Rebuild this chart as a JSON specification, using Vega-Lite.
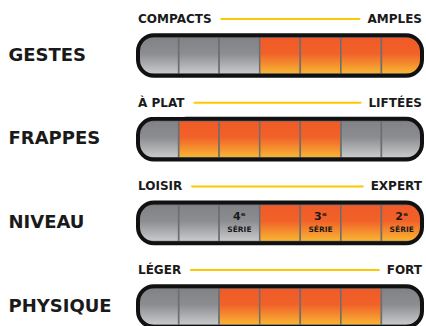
{
  "$schema": "https://vega.github.io/schema/vega-lite/v6.json",
  "width": 284,
  "height": 326,
  "autosize": {"type": "none"},
  "padding": {"left": 138, "top": 0, "right": 4, "bottom": 0},
  "background": "white",
  "config": {
    "view": {"stroke": null},
    "axisY": {"title": null, "domain": false, "ticks": false, "grid": false, "labelPadding": 130, "labelAlign": "left", "labelBaseline": "middle", "labelFont": "DejaVu Sans", "labelFontWeight": "bold", "labelFontSize": 18, "labelColor": "#1a1a1a"}
  },
  "datasets": {
    "cells": [
      {"row": "GESTES", "cell": 1, "on": false},
      {"row": "GESTES", "cell": 2, "on": false},
      {"row": "GESTES", "cell": 3, "on": false},
      {"row": "GESTES", "cell": 4, "on": true},
      {"row": "GESTES", "cell": 5, "on": true},
      {"row": "GESTES", "cell": 6, "on": true},
      {"row": "GESTES", "cell": 7, "on": true},
      {"row": "FRAPPES", "cell": 1, "on": false},
      {"row": "FRAPPES", "cell": 2, "on": true},
      {"row": "FRAPPES", "cell": 3, "on": true},
      {"row": "FRAPPES", "cell": 4, "on": true},
      {"row": "FRAPPES", "cell": 5, "on": true},
      {"row": "FRAPPES", "cell": 6, "on": false},
      {"row": "FRAPPES", "cell": 7, "on": false},
      {"row": "NIVEAU", "cell": 1, "on": false},
      {"row": "NIVEAU", "cell": 2, "on": false},
      {"row": "NIVEAU", "cell": 3, "on": false, "num": "4ᵉ"},
      {"row": "NIVEAU", "cell": 4, "on": true},
      {"row": "NIVEAU", "cell": 5, "on": true, "num": "3ᵉ"},
      {"row": "NIVEAU", "cell": 6, "on": true},
      {"row": "NIVEAU", "cell": 7, "on": true, "num": "2ᵉ"},
      {"row": "PHYSIQUE", "cell": 1, "on": false},
      {"row": "PHYSIQUE", "cell": 2, "on": false},
      {"row": "PHYSIQUE", "cell": 3, "on": true},
      {"row": "PHYSIQUE", "cell": 4, "on": true},
      {"row": "PHYSIQUE", "cell": 5, "on": true},
      {"row": "PHYSIQUE", "cell": 6, "on": true},
      {"row": "PHYSIQUE", "cell": 7, "on": false}
    ],
    "headers": [
      {"row": "GESTES", "left": "COMPACTS", "right": "AMPLES"},
      {"row": "FRAPPES", "left": "À PLAT", "right": "LIFTÉES"},
      {"row": "NIVEAU", "left": "LOISIR", "right": "EXPERT"},
      {"row": "PHYSIQUE", "left": "LÉGER", "right": "FORT"}
    ]
  },
  "layer": [
    {
      "data": {"name": "cells"},
      "transform": [{"filter": "datum.cell > 1 && datum.cell < 7 && !datum.on"}],
      "mark": {"type": "rect", "stroke": "#6d6e71", "strokeWidth": 1.5,
        "fill": {"gradient": "linear", "x1": 0, "y1": 0, "x2": 0, "y2": 1, "stops": [{"offset": 0, "color": "#808285"}, {"offset": 0.45, "color": "#8b8d90"}, {"offset": 1, "color": "#c9cbcd"}]}},
      "encoding": {
        "x": {"field": "cell", "type": "ordinal", "scale": {"domain": [1, 2, 3, 4, 5, 6, 7], "paddingInner": 0, "paddingOuter": 0}, "axis": null},
        "y": {"field": "row", "type": "nominal", "scale": {"domain": ["GESTES", "FRAPPES", "NIVEAU", "PHYSIQUE"], "range": [13.65, 348.45], "paddingInner": 0.558, "paddingOuter": 0.279}}
      }
    },
    {
      "data": {"name": "cells"},
      "transform": [{"filter": "datum.cell > 1 && datum.cell < 7 && datum.on"}],
      "mark": {"type": "rect", "stroke": "#6d6e71", "strokeWidth": 1.5,
        "fill": {"gradient": "linear", "x1": 0, "y1": 0, "x2": 0, "y2": 1, "stops": [{"offset": 0, "color": "#f05a28"}, {"offset": 0.45, "color": "#f16229"}, {"offset": 1, "color": "#f8b733"}]}},
      "encoding": {
        "x": {"field": "cell", "type": "ordinal", "axis": null},
        "y": {"field": "row", "type": "nominal"}
      }
    },
    {
      "data": {"name": "cells"},
      "transform": [{"filter": "datum.cell == 1"}],
      "mark": {"type": "rect", "stroke": "#6d6e71", "strokeWidth": 1.5, "cornerRadiusTopLeft": 14, "cornerRadiusBottomLeft": 14,
        "fill": {"gradient": "linear", "x1": 0, "y1": 0, "x2": 0, "y2": 1, "stops": [{"offset": 0, "color": "#808285"}, {"offset": 0.45, "color": "#8b8d90"}, {"offset": 1, "color": "#c9cbcd"}]}},
      "encoding": {
        "x": {"field": "cell", "type": "ordinal", "axis": null},
        "y": {"field": "row", "type": "nominal"}
      }
    },
    {
      "data": {"name": "cells"},
      "transform": [{"filter": "datum.cell == 7 && !datum.on"}],
      "mark": {"type": "rect", "stroke": "#6d6e71", "strokeWidth": 1.5, "cornerRadiusTopRight": 14, "cornerRadiusBottomRight": 14,
        "fill": {"gradient": "linear", "x1": 0, "y1": 0, "x2": 0, "y2": 1, "stops": [{"offset": 0, "color": "#808285"}, {"offset": 0.45, "color": "#8b8d90"}, {"offset": 1, "color": "#c9cbcd"}]}},
      "encoding": {
        "x": {"field": "cell", "type": "ordinal", "axis": null},
        "y": {"field": "row", "type": "nominal"}
      }
    },
    {
      "data": {"name": "cells"},
      "transform": [{"filter": "datum.cell == 7 && datum.on"}],
      "mark": {"type": "rect", "stroke": "#6d6e71", "strokeWidth": 1.5, "cornerRadiusTopRight": 14, "cornerRadiusBottomRight": 14,
        "fill": {"gradient": "linear", "x1": 0, "y1": 0, "x2": 0, "y2": 1, "stops": [{"offset": 0, "color": "#f05a28"}, {"offset": 0.45, "color": "#f16229"}, {"offset": 1, "color": "#f8b733"}]}},
      "encoding": {
        "x": {"field": "cell", "type": "ordinal", "axis": null},
        "y": {"field": "row", "type": "nominal"}
      }
    },
    {
      "data": {"name": "headers"},
      "mark": {"type": "rect", "fill": null, "stroke": "#111111", "strokeWidth": 4, "cornerRadius": 16, "height": {"band": 1.1}},
      "encoding": {
        "y": {"field": "row", "type": "nominal"}
      }
    },
    {
      "data": {"name": "cells"},
      "transform": [{"filter": "datum.num != null"}],
      "mark": {"type": "text", "baseline": "middle", "yOffset": -6, "font": "DejaVu Sans", "fontWeight": "bold", "fontSize": 11, "fill": "#1a1a1a"},
      "encoding": {
        "x": {"field": "cell", "type": "ordinal", "axis": null},
        "y": {"field": "row", "type": "nominal"},
        "text": {"field": "num"}
      }
    },
    {
      "data": {"name": "cells"},
      "transform": [{"filter": "datum.num != null"}],
      "mark": {"type": "text", "baseline": "middle", "yOffset": 7, "font": "DejaVu Sans", "fontWeight": "bold", "fontSize": 7.5, "fill": "#1a1a1a"},
      "encoding": {
        "x": {"field": "cell", "type": "ordinal", "axis": null},
        "y": {"field": "row", "type": "nominal"},
        "text": {"value": "SÉRIE"}
      }
    },
    {
      "data": {"name": "headers"},
      "mark": {"type": "rule", "color": "#fcc800", "strokeWidth": 2, "yOffset": -36.5},
      "encoding": {
        "y": {"field": "row", "type": "nominal"},
        "x": {"datum": 1, "type": "ordinal", "bandPosition": 0, "axis": null},
        "x2": {"datum": 7}
      }
    },
    {
      "data": {"name": "headers"},
      "mark": {"type": "text", "align": "left", "baseline": "middle", "yOffset": -36.5, "font": "DejaVu Sans", "fontWeight": "bold", "fontSize": 12, "fill": "white", "stroke": "white", "strokeWidth": 20, "strokeJoin": "round"},
      "encoding": {
        "y": {"field": "row", "type": "nominal"},
        "x": {"datum": 1, "type": "ordinal", "bandPosition": 0, "axis": null},
        "text": {"field": "left"}
      }
    },
    {
      "data": {"name": "headers"},
      "mark": {"type": "text", "align": "right", "baseline": "middle", "yOffset": -36.5, "font": "DejaVu Sans", "fontWeight": "bold", "fontSize": 12, "fill": "white", "stroke": "white", "strokeWidth": 16, "strokeJoin": "round"},
      "encoding": {
        "y": {"field": "row", "type": "nominal"},
        "x": {"datum": 7, "type": "ordinal", "bandPosition": 1, "axis": null},
        "text": {"field": "right"}
      }
    },
    {
      "data": {"name": "headers"},
      "mark": {"type": "text", "align": "left", "baseline": "middle", "yOffset": -36.5, "font": "DejaVu Sans", "fontWeight": "bold", "fontSize": 12, "fill": "#1a1a1a"},
      "encoding": {
        "y": {"field": "row", "type": "nominal"},
        "x": {"datum": 1, "type": "ordinal", "bandPosition": 0, "axis": null},
        "text": {"field": "left"}
      }
    },
    {
      "data": {"name": "headers"},
      "mark": {"type": "text", "align": "right", "baseline": "middle", "yOffset": -36.5, "font": "DejaVu Sans", "fontWeight": "bold", "fontSize": 12, "fill": "#1a1a1a"},
      "encoding": {
        "y": {"field": "row", "type": "nominal"},
        "x": {"datum": 7, "type": "ordinal", "bandPosition": 1, "axis": null},
        "text": {"field": "right"}
      }
    }
  ]
}
